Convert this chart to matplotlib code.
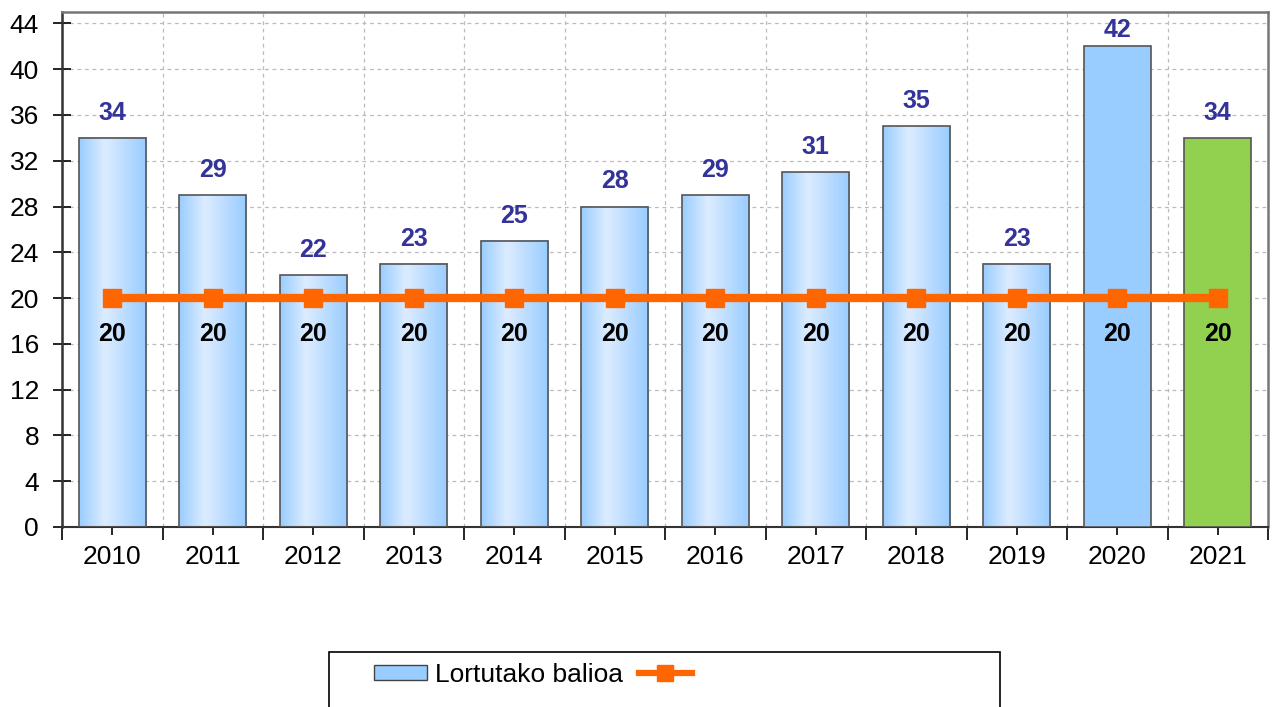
import numpy as np
import matplotlib.pyplot as plt
from matplotlib.colors import LinearSegmentedColormap
from matplotlib.patches import Rectangle
from matplotlib.lines import Line2D

plt.rcParams['font.family'] = ['Liberation Sans', 'DejaVu Sans']

years = ['2010', '2011', '2012', '2013', '2014', '2015',
         '2016', '2017', '2018', '2019', '2020', '2021']
values = [34, 29, 22, 23, 25, 28, 29, 31, 35, 23, 42, 34]
target = [20, 20, 20, 20, 20, 20, 20, 20, 20, 20, 20, 20]
legend_labels = ['Lortutako balioa', '']

fig = plt.figure(figsize=(12.76, 7.07), dpi=100)
ax = fig.add_axes([62 / 1276, 1 - 527 / 707, 1206 / 1276, 515 / 707])

ymax = 45
x = np.arange(len(years))
width = 0.67
grad = LinearSegmentedColormap.from_list(
    'g', [(0, '#9acdff'), (0.38, '#dcecff'), (1, '#99ccff')])
gimg = np.linspace(0, 1, 200).reshape(1, -1)

bars = ax.bar(x, values, width, color='none', edgecolor='#555555',
              linewidth=1.2, zorder=3)
for i, b in enumerate(bars):
    x0, h = b.get_x(), b.get_height()
    if years[i] == '2020':
        b.set_facecolor('#99ccff')
    elif years[i] == '2021':
        b.set_facecolor('#92d050')
    else:
        ax.imshow(gimg, cmap=grad, aspect='auto', zorder=2.5,
                  extent=(x0, x0 + width, 0, h), interpolation='bilinear')
    # label above the bar, kept inside the plot area
    ly = min(h + 2.2, ymax - 1.6)
    ax.text(x[i], ly, str(values[i]), ha='center', va='center',
            fontsize=18, fontweight='bold', color='#333399', zorder=5)

ax.plot(x, target, color='#ff6600', lw=6, marker='s', ms=13,
        zorder=4, solid_capstyle='butt')
for i, v in enumerate(target):
    ax.annotate(str(v), (x[i], v), xytext=(0, -26), textcoords='offset points',
                ha='center', va='center', fontsize=18, fontweight='bold',
                color='black', zorder=5)

ax.set_xlim(-0.5, len(years) - 0.5)
ax.set_ylim(0, ymax)
ax.set_yticks(np.arange(0, 45, 4))
ax.set_xticks(np.arange(-0.5, len(years), 1))
ax.set_xticklabels([])
ax.set_xticks(x, minor=True)
ax.set_xticklabels(years, minor=True)
ax.tick_params(axis='x', which='major', length=9, width=1.2, direction='out')
ax.tick_params(axis='x', which='minor', length=6, width=1.2, direction='out',
               labelsize=19, pad=7)
ax.tick_params(axis='y', direction='inout', length=13, width=1.2,
               labelsize=19, pad=10)
ax.grid(True, which='major', color='#bbbbbb', linestyle=(0, (3, 3)),
        linewidth=0.9, zorder=0)
ax.set_axisbelow(True)
for s in ['top', 'right']:
    ax.spines[s].set_color('#777777')
    ax.spines[s].set_linewidth(1.8)
ax.spines['left'].set_color('#333333')
ax.spines['left'].set_linewidth(1.8)
ax.spines['bottom'].set_color('#333333')
ax.spines['bottom'].set_linewidth(1.5)

fig.patches.append(Rectangle((329 / 1276, -0.05), 671 / 1276, 0.05 + 55 / 707,
                             transform=fig.transFigure, fill=False,
                             edgecolor='black', linewidth=1.2))
handles = [Rectangle((0, 0), 1, 1, facecolor='#99ccff', edgecolor='#444444'),
           Line2D([], [], color='#ff6600', lw=4.5, marker='s', ms=11)]
fig.legend(handles, legend_labels, loc='center left',
           bbox_to_anchor=(361 / 1276, 1 - 675 / 707), ncol=2, frameon=False,
           fontsize=19, handlelength=2.0, handleheight=0.53, handletextpad=0.3,
           columnspacing=0.6, borderpad=0)

fig.savefig('out.png', dpi=100)
